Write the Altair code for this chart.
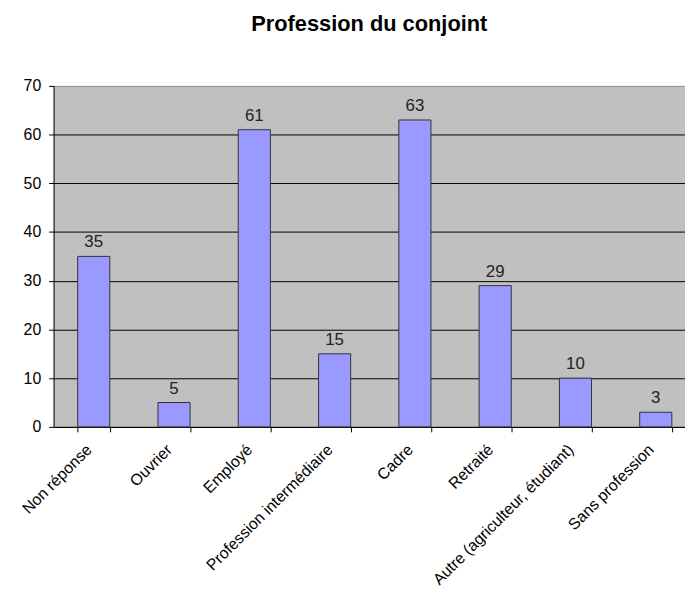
import altair as alt
import pandas as pd

categories = ["Non réponse", "Ouvrier", "Employé", "Profession intermédiaire",
              "Cadre", "Retraité", "Autre (agriculteur, étudiant)", "Sans profession"]
values = [35, 5, 61, 15, 63, 29, 10, 3]

df = pd.DataFrame({"cat": categories, "val": values})

FONT = "Liberation Sans"

x = alt.X("cat:N", sort=categories, title=None,
          scale=alt.Scale(paddingInner=0.6, paddingOuter=0.3, range=[0, 648]),
          axis=alt.Axis(labelAngle=-45, labelAlign="right", labelBaseline="middle",
                        labelFont=FONT, labelFontSize=16, labelColor="black",
                        labelPadding=15, labelOffset=-5, tickBand="extent", tickSize=5,
                        tickColor="black", domainColor="black", labelOverlap=False,
                        labelLimit=400))
y = alt.Y("val:Q", title=None,
          scale=alt.Scale(domain=[0, 70], nice=False),
          axis=alt.Axis(values=list(range(0, 71, 10)), labelFont=FONT, labelFontSize=16,
                        labelColor="black", tickSize=5, tickColor="black",
                        domainColor="black",
                        gridColor=alt.condition("datum.value == 70", alt.value("#909090"), alt.value("black")),
                        gridOpacity=1, labelPadding=8))

bars = alt.Chart(df).mark_bar(color="#9999FF", stroke="#333333", strokeWidth=1).encode(x=x, y=y)
labels = alt.Chart(df).mark_text(baseline="bottom", dy=-5, font=FONT, fontSize=17,
                                 color="#222222").encode(
    x=alt.X("cat:N", sort=categories), y="val:Q", text="val:Q")

chart = (bars + labels).properties(
    width=637, height=344,
    title=alt.Title("Profession du conjoint", font=FONT, fontSize=22, fontWeight="bold",
                    anchor="middle", offset=42, color="black"),
    autosize=alt.AutoSizeParams(type="none"),
    padding={"left": 46, "top": 76, "right": 0, "bottom": 162},
    background="white",
).configure_view(fill="#C0C0C0", strokeWidth=0)

chart.save("out.html", embed_options={"renderer": "svg", "actions": False})
